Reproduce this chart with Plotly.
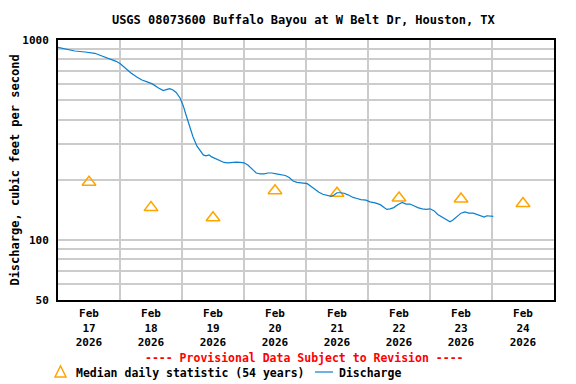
import pandas as pd
import plotly.graph_objects as go

TITLE = "USGS 08073600 Buffalo Bayou at W Belt Dr, Houston, TX"
FONT = "DejaVu Sans Mono"

# median daily statistic, one per day (plotted at noon)
median_days = ["2026-02-17", "2026-02-18", "2026-02-19", "2026-02-20",
               "2026-02-21", "2026-02-22", "2026-02-23", "2026-02-24"]
median_cfs = [194, 145, 129, 176, 171, 162, 160, 152]

# discharge: hours after 2026-02-17 00:00 and cfs
discharge_hours = [
    0, 2.75, 6.5, 10.5, 14.25, 16.25, 19.25, 22.5, 24, 26, 28.25, 30.5, 32.5,
    34.5, 36.5, 38.75, 40.75, 42.25, 43.25, 44.5, 45.75, 47.25, 48.5, 49.5,
    51, 52.25, 53.75, 55, 56.25, 57.25, 58.5, 59.5, 61.25, 62.75, 64.25,
    65.75, 67.25, 69, 70.5, 72, 73.5, 75, 76.75, 78.25, 79.75, 81.25, 82.75,
    84.5, 86, 88, 89.5, 91, 92.5, 94.5, 96.5, 98, 99.5, 101, 102.5, 104,
    105.75, 106.75, 108, 109.25, 110.75, 112.25, 114.25, 115.75, 117.25,
    119.25, 120.75, 122.75, 124.75, 126.25, 127.25, 128.5, 130, 131.5,
    133.25, 134.75, 136.25, 137.75, 139.25, 141, 142.5, 144, 145.5, 147,
    148.75, 150.25, 151.75, 153, 154.5, 156, 157.5, 159, 160.75, 162.25,
    163.75, 165, 166, 167.25, 168.5,
]
discharge_cfs = [
    919, 902, 881, 871, 858, 839, 813, 782, 763, 724, 684, 653, 631,
    617, 603, 577, 558, 566, 571, 562, 546, 513, 468, 424,
    368, 328, 295, 282, 266, 263, 266, 260, 254, 248, 244,
    243, 244, 245, 244, 243, 237, 228, 216, 214, 214, 216, 216,
    214, 213, 210, 205, 197, 194, 193, 191, 185, 178, 173, 169, 167,
    165, 167, 172, 172, 171, 168, 163, 161, 159,
    158, 155, 153, 150, 145, 142, 143, 145, 150,
    154, 151, 151, 148, 145, 143, 142, 143, 140, 134,
    130, 126, 123, 126, 131, 136, 138, 136, 136, 134,
    132, 130, 132, 132, 131,
]

day_labels = ["17", "18", "19", "20", "21", "22", "23", "24"]
y_labels = [50, 100, 1000]
y_minor = [60, 70, 80, 90, 200, 300, 400, 500, 600, 700, 800, 900]

start = pd.Timestamp("2026-02-17")
t_discharge = start + pd.to_timedelta(discharge_hours, unit="h")
t_median = pd.to_datetime(median_days) + pd.Timedelta(hours=12)
day_edges = pd.date_range("2026-02-17", "2026-02-25", freq="D")

# the page body adds an 8px margin, so the figure is drawn 8px smaller
PAD = 8
W, H = 576 - PAD, 384 - PAD
# plot area in window pixels (left, right, top, bottom)
L, R, T, B = 58, 554, 40, 300


def px(x):
    return (x - L) / (R - L)


def py(y):
    return (B - y) / (B - T)


fig = go.Figure()
fig.add_trace(
    go.Scatter(
        x=t_median,
        y=median_cfs,
        mode="markers",
        name="Median daily statistic (54 years)",
        marker=dict(symbol="triangle-up-open", size=12, color="#ffa500",
                    line=dict(width=1.5, color="#ffa500")),
    )
)
fig.add_trace(
    go.Scatter(
        x=t_discharge,
        y=discharge_cfs,
        mode="lines",
        name="Discharge",
        line=dict(color="#0a7fd0", width=1.2),
    )
)

fig.update_xaxes(
    range=[day_edges[0], day_edges[-1]],
    tickvals=t_median,
    ticktext=[f"Feb<br>{d}<br>2026" for d in day_labels],
    showgrid=False,
    ticks="",
    ticklabelstandoff=2,
    automargin=False,
    showline=True, mirror=True, linecolor="black", linewidth=2,
    tickfont=dict(family=FONT, size=11, color="black"),
    minor=dict(tickvals=list(day_edges), showgrid=True, gridcolor="#cccccc",
               gridwidth=2, ticks=""),
)
fig.update_yaxes(
    type="log",
    range=[1.69897, 3],
    tickvals=y_labels,
    ticktext=[str(v) for v in y_labels],
    showgrid=True, gridcolor="#cccccc", gridwidth=2,
    ticks="",
    ticklabelstandoff=5,
    automargin=False,
    showline=True, mirror=True, linecolor="black", linewidth=2,
    tickfont=dict(family=FONT, size=11, color="black"),
    title=dict(text="<b>Discharge, cubic feet per second</b>",
               font=dict(family=FONT, size=12, color="black"), standoff=1),
    minor=dict(tickvals=y_minor, showgrid=True, gridcolor="#cccccc",
               gridwidth=2, ticks=""),
)

fig.add_annotation(
    text="<b>---- Provisional Data Subject to Revision ----</b>",
    xref="paper", yref="paper", x=px(304), y=py(358), yanchor="middle",
    showarrow=False, font=dict(family=FONT, size=11.5, color="red"),
)

# legend drawn by hand so the keys sit as in the reference
fig.add_shape(
    type="path", xref="paper", yref="paper",
    path=f"M {px(55)} {py(377)} L {px(66)} {py(377)} L {px(60.5)} {py(366)} Z",
    line=dict(color="#ffa500", width=1.5),
)
fig.add_annotation(
    text="<b>Median daily statistic (54 years)</b>",
    xref="paper", yref="paper", x=px(74), y=py(373),
    xanchor="left", yanchor="middle",
    showarrow=False, font=dict(family=FONT, size=11.5, color="black"),
)
fig.add_shape(
    type="line", xref="paper", yref="paper",
    x0=px(315), x1=px(333), y0=py(372), y1=py(372),
    line=dict(color="#0a7fd0", width=1.2),
)
fig.add_annotation(
    text="<b>Discharge</b>",
    xref="paper", yref="paper", x=px(337), y=py(373),
    xanchor="left", yanchor="middle",
    showarrow=False, font=dict(family=FONT, size=11.5, color="black"),
)

fig.update_layout(
    width=W, height=H,
    margin=dict(l=L - PAD, r=576 - R, t=T - PAD, b=384 - B, autoexpand=False),
    plot_bgcolor="white", paper_bgcolor="white",
    showlegend=False,
    font=dict(family=FONT, size=12, color="black", weight="bold"),
    title=dict(text="<b>" + TITLE + "</b>", x=0.52, xanchor="center",
               y=1 - (20 - PAD) / H, yref="container", yanchor="middle",
               font=dict(family=FONT, size=12, color="black")),
)

fig.write_html("out.html")
